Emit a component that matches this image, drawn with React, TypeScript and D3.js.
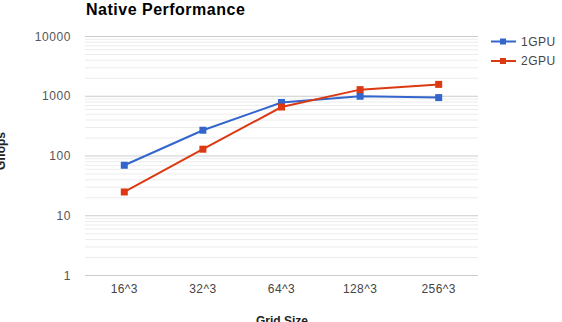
import React from "react";
import * as d3 from "d3";

const categories = ["16^3", "32^3", "64^3", "128^3", "256^3"];
const gpu1 = [70, 270, 785, 1000, 950];
const gpu2 = [25, 130, 660, 1290, 1580];
const seriesNames = ["1GPU", "2GPU"];
const seriesColors = ["#3366cc", "#dc3912"];
const yTicks = [1, 10, 100, 1000, 10000];

const W = 562;
const H = 322;
const left = 85;
const right = 478;
const top = 36.5;
const bottom = 275.5;
const font = "Arial, 'Liberation Sans', sans-serif";

export default function App() {
  const x = d3.scalePoint<string>().domain(categories).range([left, right]).padding(0.5);
  const y = d3.scaleLog().domain([1, 10000]).range([bottom, top]);

  const minor: number[] = [];
  for (let dec = 1; dec < 10000; dec *= 10) {
    for (let k = 2; k <= 9; k++) minor.push(dec * k);
  }

  const line = d3
    .line<number>()
    .x((_, i) => x(categories[i]) as number)
    .y((d) => y(d));

  const series = [gpu1, gpu2];

  return (
    <svg
      width={W}
      height={H}
      style={{ position: "absolute", left: 0, top: 0, background: "#fff" }}
      fontFamily={font}
    >
      <text x={86} y={15} fontSize={16} letterSpacing={0.5} fontWeight="bold" fill="#000">
        Native Performance
      </text>

      {minor.map((v) => (
        <line key={"m" + v} x1={left} x2={right} y1={y(v)} y2={y(v)} stroke="#ececec" strokeWidth={1} />
      ))}
      {yTicks.map((v) => (
        <g key={"t" + v}>
          <line x1={left} x2={right} y1={y(v)} y2={y(v)} stroke="#cccccc" strokeWidth={1} />
          <text
            x={71}
            y={y(v)}
            dy="0.35em"
            textAnchor="end"
            fontSize={12}
            letterSpacing={0.6}
            fill="#555"
          >
            {v}
          </text>
        </g>
      ))}

      {categories.map((c) => (
        <text
          key={c}
          x={x(c) as number}
          y={293}
          textAnchor="middle"
          fontSize={12}
          letterSpacing={0.4}
          fill="#444"
        >
          {c}
        </text>
      ))}

      <text x={282} y={325} textAnchor="middle" fontSize={12} fontWeight="bold" fill="#222">
        Grid Size
      </text>
      <text
        transform="translate(5,151) rotate(-90)"
        textAnchor="middle"
        fontSize={12}
        fontWeight="bold"
        fill="#222"
      >
        Gflops
      </text>

      {series.map((s, si) => (
        <g key={si}>
          <path d={line(s) || ""} fill="none" stroke={seriesColors[si]} strokeWidth={2} />
          {s.map((v, i) => (
            <rect
              key={i}
              x={(x(categories[i]) as number) - 3.5}
              y={y(v) - 3.5}
              width={7}
              height={7}
              fill={seriesColors[si]}
            />
          ))}
        </g>
      ))}

      {seriesNames.map((n, i) => {
        const ly = 41.5 + i * 19.5;
        return (
          <g key={n}>
            <line x1={491} x2={516} y1={ly} y2={ly} stroke={seriesColors[i]} strokeWidth={2} />
            <rect x={500} y={ly - 3} width={6} height={6} fill={seriesColors[i]} />
            <text x={521} y={ly} dy="0.35em" fontSize={12} letterSpacing={0.5} fill="#444">
              {n}
            </text>
          </g>
        );
      })}
    </svg>
  );
}
